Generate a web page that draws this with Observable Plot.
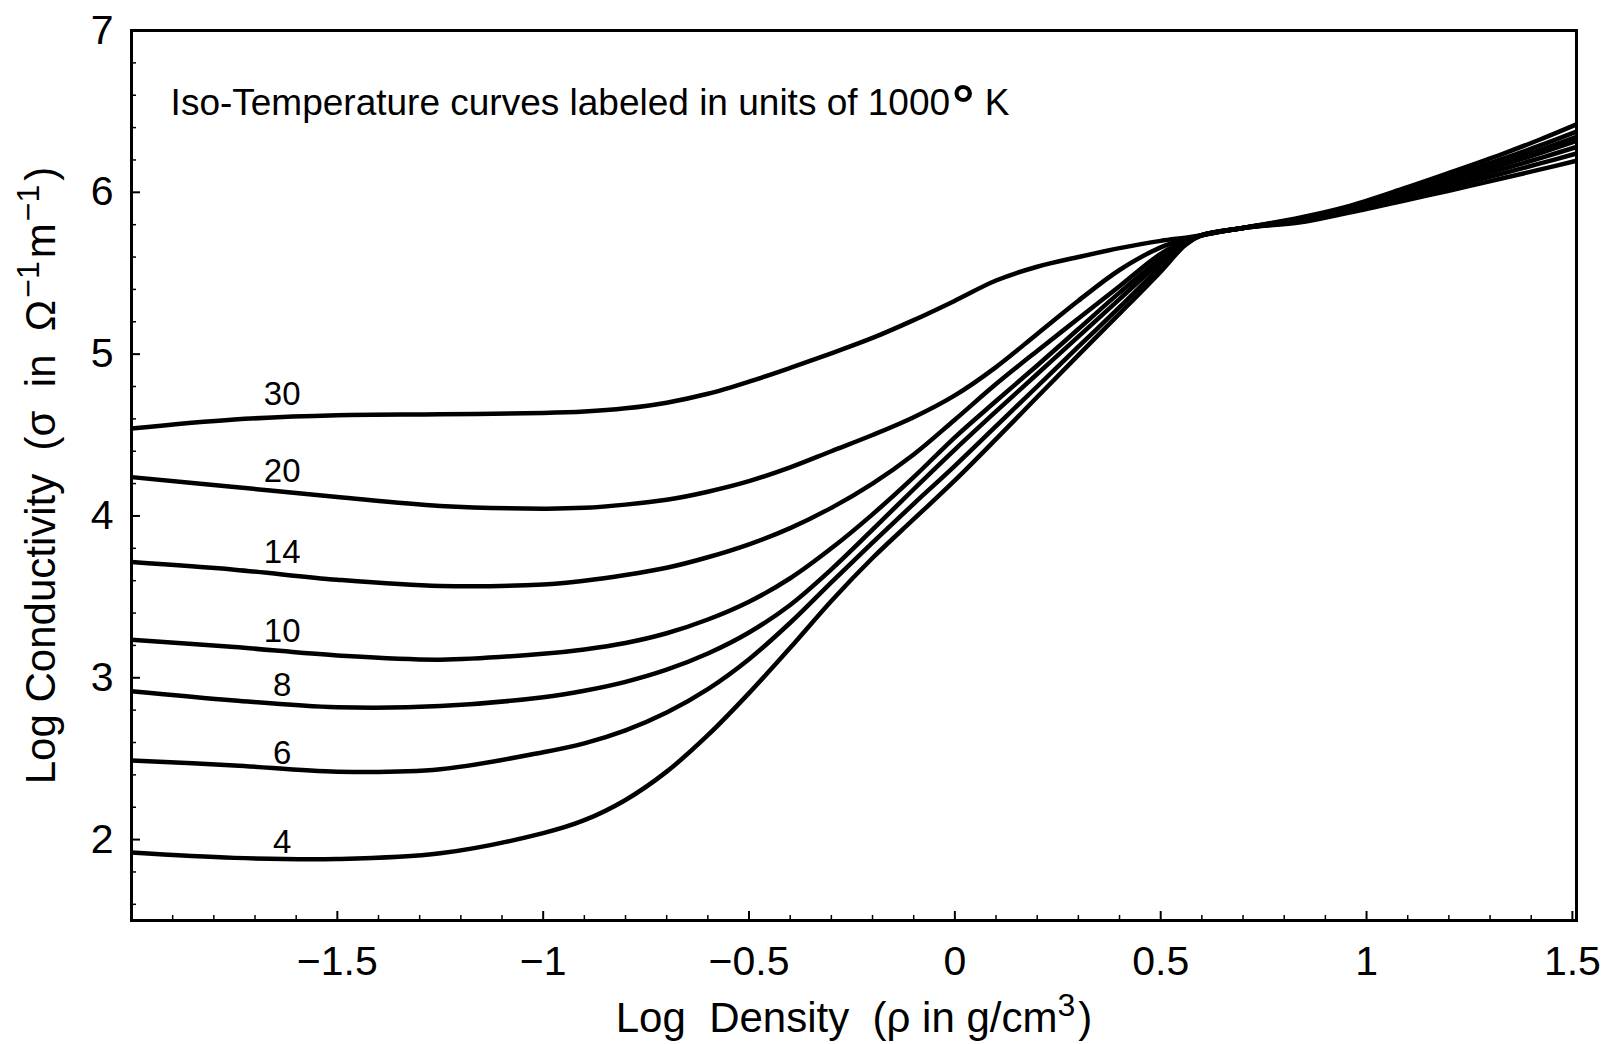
<!DOCTYPE html>
<html>
<head>
<meta charset="utf-8">
<script src="https://cdn.jsdelivr.net/npm/d3@7"></script>
<script src="https://cdn.jsdelivr.net/npm/@observablehq/plot@0.6"></script>
<style>
  html, body { margin: 0; padding: 0; background: #fff; }
  svg { display: block; }
</style>
</head>
<body>
<div id="chart"></div>
<script>
// ---- data ----
const temperatures = ["4", "6", "8", "10", "14", "20", "30"];

const logDensity = [-2, -1.75, -1.5, -1.25, -1, -0.9, -0.8, -0.7, -0.6, -0.5, -0.4, -0.3, -0.2, -0.1, 0,
  0.1, 0.2, 0.3, 0.4, 0.5, 0.56, 0.6, 0.7, 0.84, 0.95, 1.085, 1.2, 1.328, 1.42, 1.51];

const condT4  = [1.92, 1.887, 1.88, 1.915, 2.04, 2.12, 2.245, 2.42, 2.645, 2.905, 3.185, 3.475, 3.74, 3.98, 4.22,
  4.475, 4.735, 4.994, 5.25, 5.51, 5.675, 5.735, 5.78, 5.845, 5.91, 6.02, 6.12, 6.235, 6.325, 6.42];
const condT6  = [2.489, 2.458, 2.42, 2.435, 2.54, 2.595, 2.675, 2.785, 2.93, 3.115, 3.34, 3.59, 3.835, 4.075, 4.31,
  4.555, 4.80, 5.046, 5.29, 5.54, 5.68, 5.735, 5.78, 5.839, 5.902, 6.005, 6.098, 6.205, 6.288, 6.375];
const condT8  = [2.917, 2.86, 2.818, 2.825, 2.88, 2.92, 2.975, 3.05, 3.15, 3.28, 3.45, 3.67, 3.915, 4.165, 4.41,
  4.646, 4.877, 5.108, 5.34, 5.57, 5.685, 5.735, 5.78, 5.835, 5.896, 5.994, 6.082, 6.183, 6.261, 6.343];
const condT10 = [3.235, 3.19, 3.138, 3.112, 3.148, 3.175, 3.215, 3.275, 3.36, 3.47, 3.615, 3.80, 4.01, 4.24, 4.486,
  4.71, 4.93, 5.155, 5.38, 5.59, 5.69, 5.735, 5.78, 5.831, 5.892, 5.986, 6.07, 6.167, 6.241, 6.318];
const condT14 = [3.715, 3.668, 3.606, 3.567, 3.577, 3.60, 3.635, 3.68, 3.745, 3.825, 3.925, 4.05, 4.20, 4.38, 4.595,
  4.815, 5.02, 5.22, 5.42, 5.62, 5.70, 5.735, 5.78, 5.826, 5.885, 5.973, 6.052, 6.142, 6.21, 6.28];
const condT20 = [4.24, 4.179, 4.117, 4.062, 4.045, 4.05, 4.07, 4.10, 4.15, 4.215, 4.30, 4.40, 4.50, 4.61, 4.745,
  4.92, 5.125, 5.33, 5.52, 5.66, 5.71, 5.735, 5.78, 5.821, 5.878, 5.96, 6.032, 6.115, 6.177, 6.24];
const condT30 = [4.54, 4.596, 4.622, 4.628, 4.636, 4.645, 4.665, 4.70, 4.755, 4.83, 4.915, 5.005, 5.10, 5.21, 5.33,
  5.455, 5.54, 5.60, 5.655, 5.70, 5.72, 5.735, 5.78, 5.815, 5.87, 5.945, 6.01, 6.085, 6.14, 6.195];

// curve label positions (data units)
const labelDensity = [-1.634, -1.634, -1.634, -1.634, -1.634, -1.634, -1.634];
const labelConductivity = [1.983, 2.535, 2.955, 3.288, 3.772, 4.277, 4.752];

// annotation
const annotationText = "Iso-Temperature curves labeled in units of 1000°K";
const annotationDensity = -1.905;
const annotationConductivity = 6.552;

// axes
const xMajorTicks = [-1.5, -1, -0.5, 0, 0.5, 1, 1.5];
const yMajorTicks = [2, 3, 4, 5, 6, 7];
const xTitle = "Log  Density  (ρ in g/cm³)";
const yTitle = "Log Conductivity  (σ  in  Ω⁻¹m⁻¹)";

// ---- build ----
const series = [condT4, condT6, condT8, condT10, condT14, condT20, condT30];
const rows = [];
series.forEach((vals, k) => {
  vals.forEach((v, i) => rows.push({T: temperatures[k], density: logDensity[i], conductivity: v}));
});
const labels = temperatures.map((t, i) => ({t, x: labelDensity[i], y: labelConductivity[i]}));

const xMinorTicks = d3.range(-19, 16).map(d => Math.round(d) / 10).filter(d => !xMajorTicks.includes(d));
const yMinorTicks = d3.range(8, 35).map(d => Math.round(d * 2) / 10).filter(d => !yMajorTicks.includes(d));

const fmt = d => d < 0 ? "\u2212" + Math.abs(d) : String(d);

const W = 1612, H = 1044;
const mL = 131, mR = 36, mT = 30, mB = 124;

const chart = Plot.plot({
  width: W,
  height: H,
  marginLeft: mL,
  marginRight: mR,
  marginTop: mT,
  marginBottom: mB,
  x: {domain: [-2, 1.51], label: null},
  y: {domain: [1.5, 7], label: null},
  style: {fontFamily: "'Liberation Sans', Arial, Helvetica, sans-serif", background: "#fff", color: "#000"},
  marks: [
    Plot.line(rows, {x: "density", y: "conductivity", z: "T", stroke: "#000", strokeWidth: 4.5,
      strokeLinejoin: "round", strokeLinecap: "butt", curve: "catmull-rom"}),
    Plot.frame({stroke: "#000", strokeWidth: 3}),
    // inward ticks
    Plot.axisX(xMajorTicks, {tickSize: -9, tickFormat: () => "", strokeWidth: 2, label: null}),
    Plot.axisX(xMinorTicks, {tickSize: -5, tickFormat: () => "", strokeWidth: 1.5, label: null}),
    Plot.axisY(yMajorTicks, {tickSize: -9, tickFormat: () => "", strokeWidth: 2, label: null}),
    Plot.axisY(yMinorTicks, {tickSize: -5, tickFormat: () => "", strokeWidth: 1.5, label: null}),
    // tick labels
    Plot.axisX(xMajorTicks, {tickSize: 0, tickPadding: 25, tickFormat: fmt, fontSize: 41, label: null}),
    Plot.axisY(yMajorTicks, {tickSize: 0, tickPadding: 18, tickFormat: fmt, fontSize: 41, label: null}),
    // axis titles
    Plot.text([xTitle], {frameAnchor: "bottom", dy: 98, fontSize: 42, textAnchor: "middle", lineAnchor: "middle"}),
    Plot.text([yTitle], {frameAnchor: "left", dx: -90, rotate: -90, fontSize: 42, textAnchor: "middle", lineAnchor: "middle"}),
    // curve labels
    Plot.text(labels, {x: "x", y: "y", text: "t", fontSize: 33, textAnchor: "middle", lineAnchor: "middle"}),
    // annotation
    Plot.text([annotationText], {x: () => annotationDensity, y: () => annotationConductivity, fontSize: 37, textAnchor: "start", lineAnchor: "middle"})
  ]
});

document.getElementById("chart").appendChild(chart);

// typographic refinement: real superscripts in the titles / annotation
const svg = d3.select(chart);
function richText(match, parts) {
  svg.selectAll("text").filter(function() { return this.textContent === match; }).each(function() {
    const t = d3.select(this);
    t.text(null);
    parts.forEach(p => {
      const ts = t.append("tspan").text(p.text);
      if (p.size) ts.attr("font-size", p.size);
      if (p.dy) ts.attr("dy", p.dy);
      if (p.dx) ts.attr("dx", p.dx);
      if (p.weight) ts.attr("font-weight", p.weight);
    });
  });
}
richText(xTitle, [
  {text: "Log  Density  (ρ in g/cm"},
  {text: "3", size: 32, dy: -16},
  {text: ")", dy: 16, dx: 3}
]);
richText(yTitle, [
  {text: "Log Conductivity  (σ  in  Ω"},
  {text: "−1", size: 32, dy: -16, dx: 2},
  {text: "m", dy: 16, dx: 3},
  {text: "−1", size: 32, dy: -16, dx: 2},
  {text: ")", dy: 16, dx: 4}
]);
richText(annotationText, [
  {text: "Iso-Temperature curves labeled in units of 1000"},
  {text: "°", size: 56, dy: 9, weight: "bold", dx: 2},
  {text: " K", dy: -9}
]);
</script>
</body>
</html>
